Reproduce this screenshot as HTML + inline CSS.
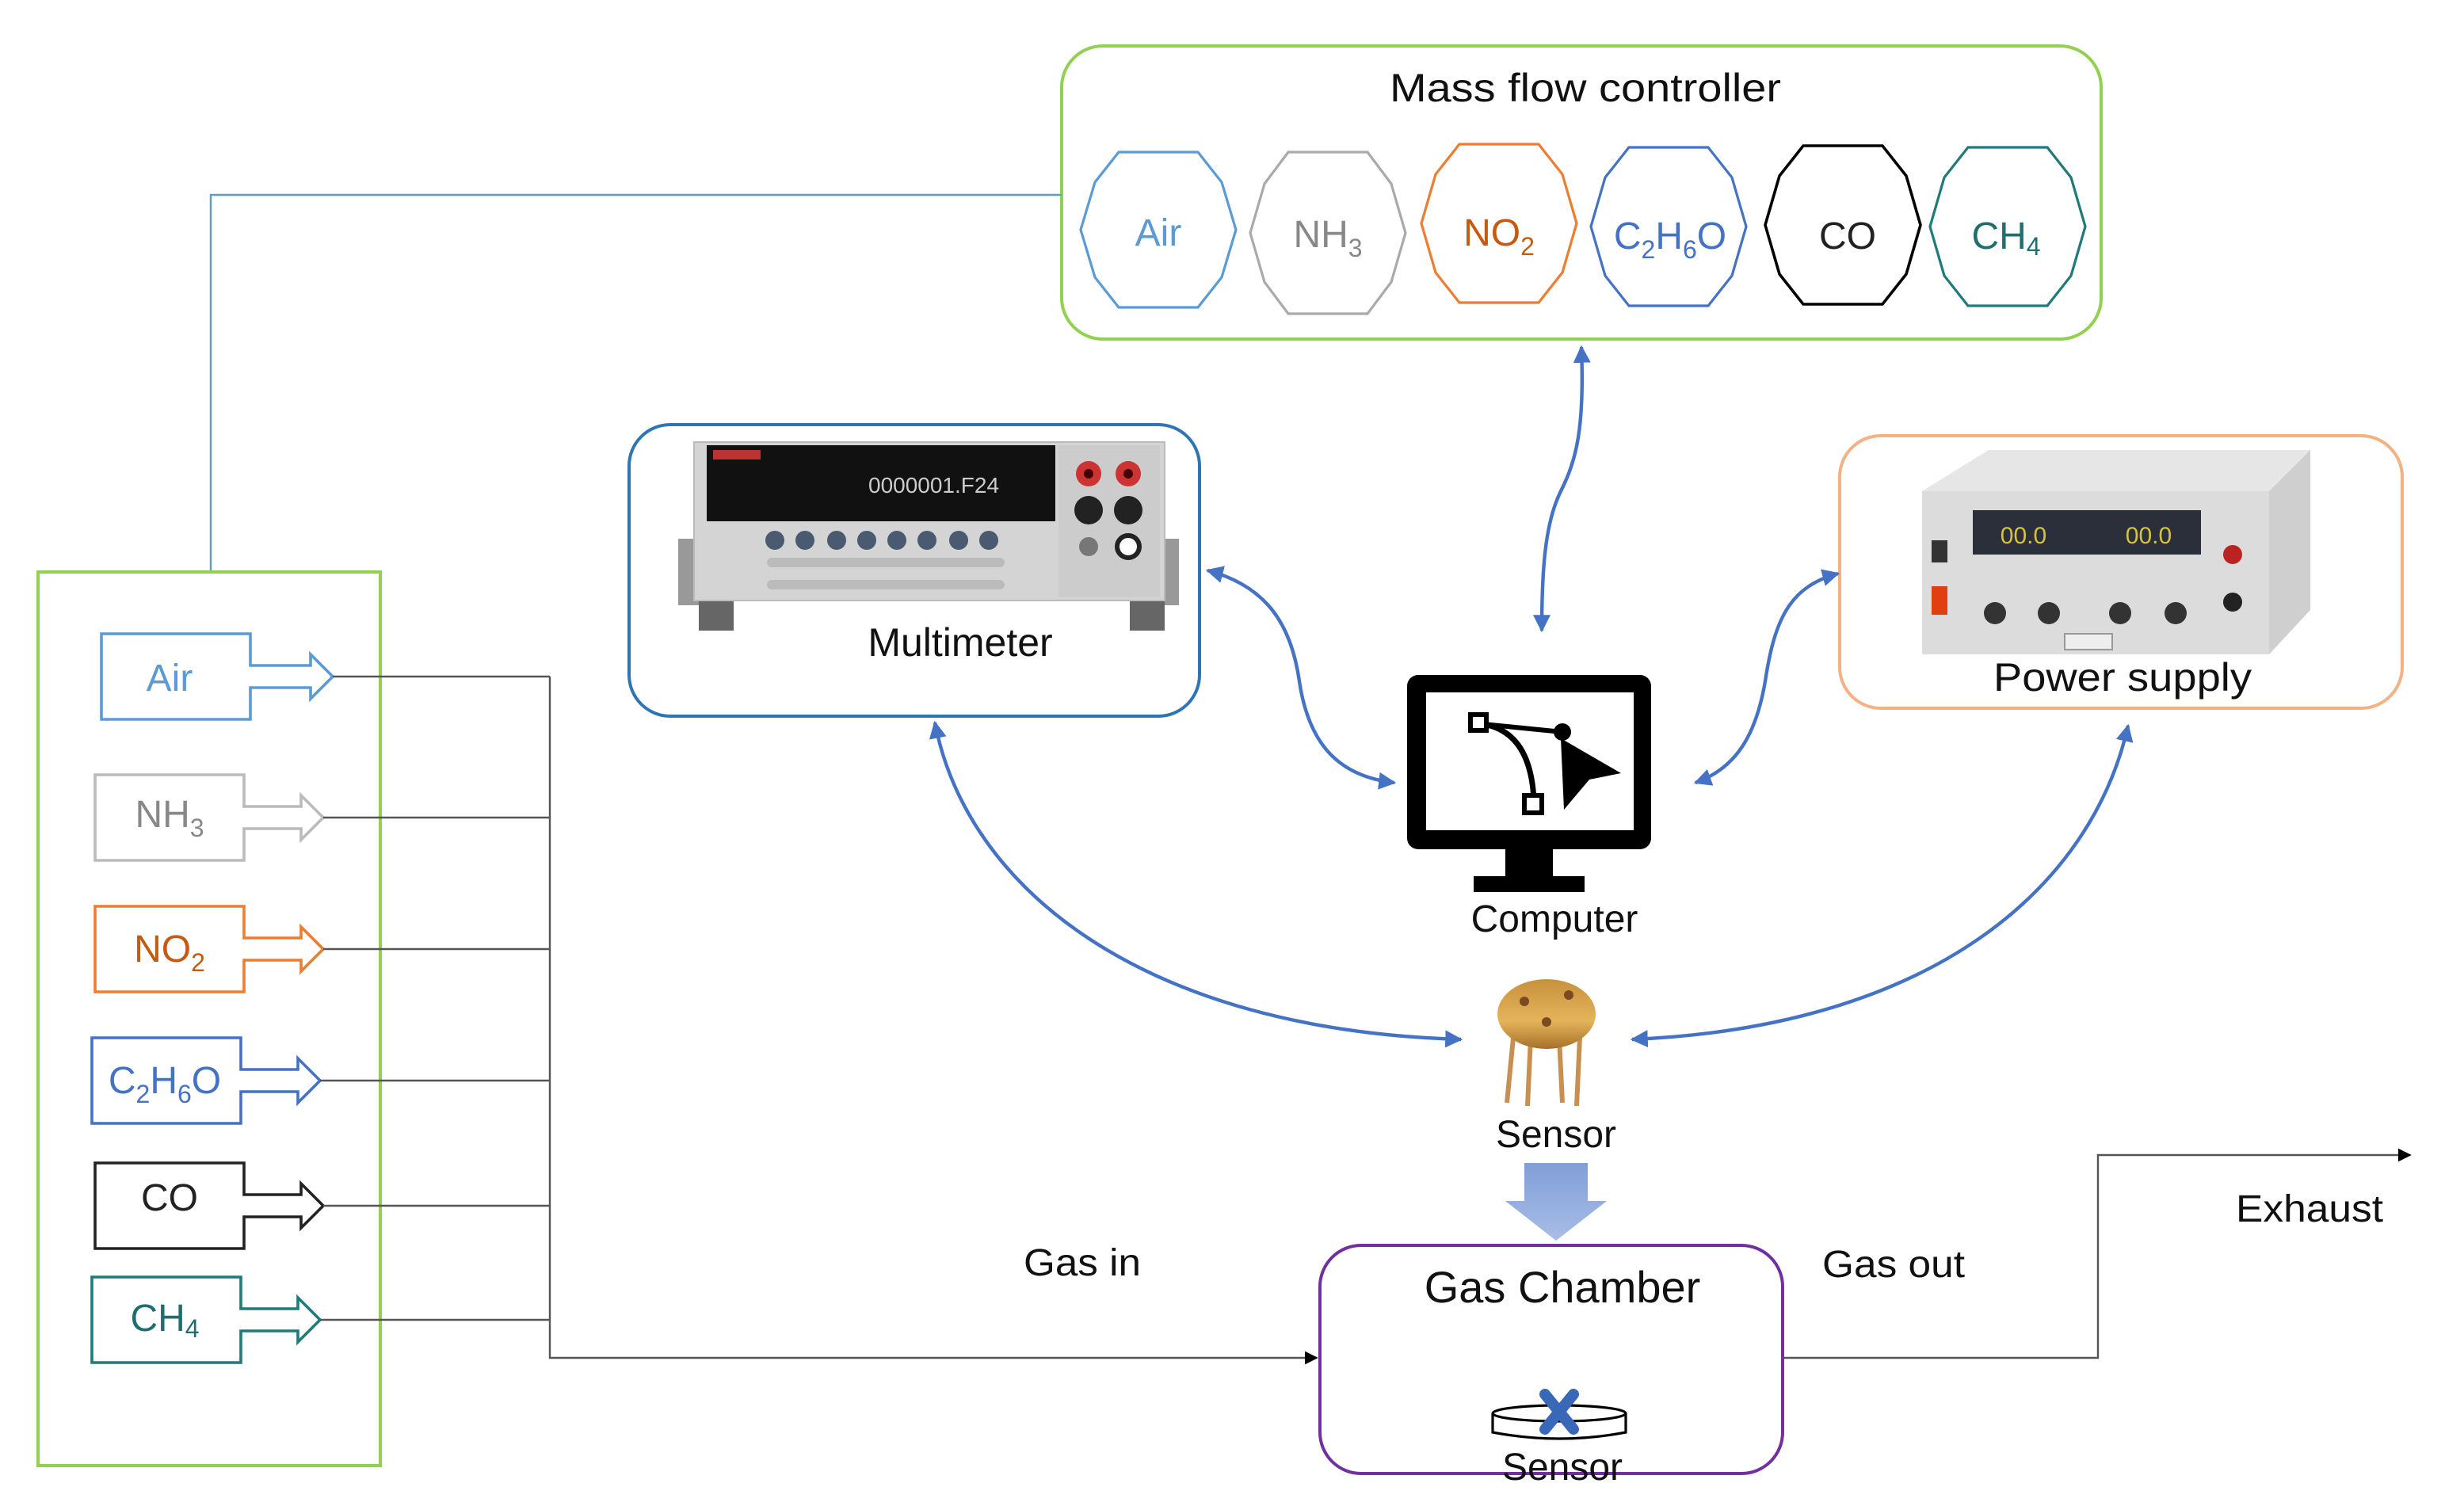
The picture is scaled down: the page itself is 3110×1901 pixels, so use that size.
<!DOCTYPE html>
<html><head><meta charset="utf-8"><style>
html,body{margin:0;padding:0;background:#fff;}
svg{display:block;}
text{font-family:"Liberation Sans",sans-serif;}
.n{font-family:"Liberation Sans Narrow","Liberation Sans",sans-serif;}
</style></head><body>
<svg width="3110" height="1901" viewBox="0 0 1555 950.5" xmlns="http://www.w3.org/2000/svg">
<defs>
<marker id="ab" viewBox="0 0 10 10" refX="9" refY="5" markerWidth="5" markerHeight="5" orient="auto-start-reverse"><path d="M0,0 L10,5 L0,10 z" fill="#4472c4"/></marker>
<marker id="ak" viewBox="0 0 10 10" refX="9" refY="5" markerWidth="7" markerHeight="7" orient="auto"><path d="M0,0 L10,5 L0,10 z" fill="#000"/></marker>
<linearGradient id="dg" x1="0" y1="0" x2="0" y2="1"><stop offset="0" stop-color="#7f9fd8"/><stop offset="1" stop-color="#a9bde6"/></linearGradient>
<linearGradient id="gold" x1="0" y1="0" x2="0" y2="1"><stop offset="0" stop-color="#c8903c"/><stop offset=".6" stop-color="#e4b45a"/><stop offset="1" stop-color="#a8702a"/></linearGradient>
</defs>

<!-- Mass flow controller -->
<rect x="670" y="29" width="656" height="185" rx="26" fill="none" stroke="#92d050" stroke-width="2"/>
<text x="877" y="64" font-size="25" textLength="247" lengthAdjust="spacingAndGlyphs" fill="#111">Mass flow controller</text>
<polygon points="780,145 771,175 756,194 706,194 691,175 682,145 691,115 706,96 756,96 771,115" fill="none" stroke="#5b9bd5" stroke-width="1.6"/>
<polygon points="887,147 878,178 863,198 813,198 798,178 789,147 798,116 813,96 863,96 878,116" fill="none" stroke="#aaa" stroke-width="1.6"/>
<polygon points="995,141 986,172 971,191 921,191 906,172 897,141 906,110 921,91 971,91 986,110" fill="none" stroke="#ed7d31" stroke-width="1.6"/>
<polygon points="1102,143 1093,174 1078,193 1028,193 1013,174 1004,143 1013,112 1028,93 1078,93 1093,112" fill="none" stroke="#4472c4" stroke-width="1.6"/>
<polygon points="1212,142 1203,173 1188,192 1138,192 1123,173 1114,142 1123,111 1138,92 1188,92 1203,111" fill="none" stroke="#000" stroke-width="1.8"/>
<polygon points="1316,143 1307,174 1292,193 1242,193 1227,174 1218,143 1227,112 1242,93 1292,93 1307,112" fill="none" stroke="#1f7a7a" stroke-width="1.6"/>
<g font-size="24" text-anchor="middle">
<text x="731" y="155" fill="#5b9bd5">Air</text>
<text x="838" y="156" fill="#888">NH<tspan font-size="16" dy="6">3</tspan></text>
<text x="946" y="155" fill="#c55a11">NO<tspan font-size="16" dy="6">2</tspan></text>
<text x="1054" y="157" fill="#4472c4">C<tspan font-size="16" dy="6">2</tspan><tspan dy="-6">H</tspan><tspan font-size="16" dy="6">6</tspan><tspan dy="-6">O</tspan></text>
<text x="1166" y="157" fill="#222">CO</text>
<text x="1266" y="157" fill="#1f6f70">CH<tspan font-size="16" dy="4">4</tspan></text>
</g>

<polyline points="670,123 133,123 133,361" fill="none" stroke="#5b9bd5" stroke-width="1.2"/>

<!-- left box -->
<rect x="24" y="361" width="216" height="564" fill="none" stroke="#92d050" stroke-width="2"/>
<g fill="#fff" stroke-width="1.8">
<polygon points="64,400 158,400 158,420 196,420 196,413 210,427 196,441 196,434 158,434 158,454 64,454" stroke="#5b9bd5"/>
<polygon points="60,489 154,489 154,509 190,509 190,502 204,516 190,530 190,523 154,523 154,543 60,543" stroke="#bbb"/>
<polygon points="60,572 154,572 154,592 190,592 190,585 204,599 190,613 190,606 154,606 154,626 60,626" stroke="#ed7d31"/>
<polygon points="58,655 152,655 152,675 188,675 188,668 202,682 188,696 188,689 152,689 152,709 58,709" stroke="#4472c4"/>
<polygon points="60,734 154,734 154,754 190,754 190,747 204,761 190,775 190,768 154,768 154,788 60,788" stroke="#222"/>
<polygon points="58,806 152,806 152,826 188,826 188,819 202,833 188,847 188,840 152,840 152,860 58,860" stroke="#1f7a7a"/>
</g>
<g font-size="24" text-anchor="middle">
<text x="107" y="436" fill="#5b9bd5">Air</text>
<text x="107" y="522" fill="#888">NH<tspan font-size="16" dy="6">3</tspan></text>
<text x="107" y="607" fill="#c55a11">NO<tspan font-size="16" dy="6">2</tspan></text>
<text x="104" y="690" fill="#4472c4">C<tspan font-size="16" dy="6">2</tspan><tspan dy="-6">H</tspan><tspan font-size="16" dy="6">6</tspan><tspan dy="-6">O</tspan></text>
<text x="107" y="764" fill="#222">CO</text>
<text x="104" y="840" fill="#1f6f70">CH<tspan font-size="16" dy="4">4</tspan></text>
</g>
<g stroke="#555" stroke-width="1.2" fill="none">
<line x1="210" y1="427" x2="347" y2="427"/>
<line x1="204" y1="516" x2="347" y2="516"/>
<line x1="204" y1="599" x2="347" y2="599"/>
<line x1="202" y1="682" x2="347" y2="682"/>
<line x1="204" y1="761" x2="347" y2="761"/>
<line x1="202" y1="833" x2="347" y2="833"/>
<polyline points="347,427 347,857 831,857" marker-end="url(#ak)"/>
<polyline points="1125,857 1324,857 1324,729 1521,729" marker-end="url(#ak)"/>
</g>
<text x="646" y="805" font-size="24" textLength="74" lengthAdjust="spacingAndGlyphs" fill="#111">Gas in</text>
<text x="1150" y="806" font-size="24" textLength="90" lengthAdjust="spacingAndGlyphs" fill="#111">Gas out</text>
<text x="1411" y="771" font-size="24" textLength="93" lengthAdjust="spacingAndGlyphs" fill="#111">Exhaust</text>

<!-- Multimeter -->
<rect x="397" y="268" width="360" height="184" rx="26" fill="none" stroke="#2e75b6" stroke-width="2"/>
<rect x="428" y="340" width="18" height="42" fill="#999"/>
<rect x="726" y="340" width="18" height="42" fill="#999"/>
<rect x="441" y="370" width="22" height="28" fill="#666"/>
<rect x="713" y="370" width="22" height="28" fill="#666"/>
<rect x="438" y="279" width="297" height="100" fill="#d4d4d4" stroke="#bbb"/>
<rect x="446" y="281" width="220" height="48" fill="#111"/>
<rect x="450" y="284" width="30" height="6" fill="#b33"/>
<text x="548" y="311" font-size="14" fill="#ccc" font-family="Liberation Mono">0000001.F24</text>
<rect x="668" y="281" width="64" height="96" fill="#ccc"/>
<circle cx="687" cy="299" r="8" fill="#c33"/><circle cx="712" cy="299" r="8" fill="#c33"/>
<circle cx="687" cy="299" r="3" fill="#400"/><circle cx="712" cy="299" r="3" fill="#400"/>
<circle cx="687" cy="322" r="9" fill="#222"/><circle cx="712" cy="322" r="9" fill="#222"/>
<circle cx="687" cy="345" r="6" fill="#777"/><circle cx="712" cy="345" r="7" fill="#fff" stroke="#222" stroke-width="3"/>
<g fill="#4a5a70">
<circle cx="489" cy="341" r="6"/><circle cx="508" cy="341" r="6"/><circle cx="528" cy="341" r="6"/><circle cx="547" cy="341" r="6"/>
<circle cx="566" cy="341" r="6"/><circle cx="585" cy="341" r="6"/><circle cx="605" cy="341" r="6"/><circle cx="624" cy="341" r="6"/>
</g>
<rect x="484" y="352" width="150" height="6" rx="3" fill="#bbb"/>
<rect x="484" y="366" width="150" height="6" rx="3" fill="#bbb"/>
<text x="606" y="414" font-size="25" text-anchor="middle" fill="#111">Multimeter</text>

<!-- Power supply -->
<rect x="1161" y="275" width="355" height="172" rx="26" fill="none" stroke="#f4b183" stroke-width="2"/>
<polygon points="1213,310 1255,284 1458,284 1432,310" fill="#e6e6e6"/>
<polygon points="1432,310 1458,284 1458,385 1432,413" fill="#cfcfcf"/>
<rect x="1213" y="310" width="219" height="103" fill="#dcdcdc"/>
<rect x="1245" y="322" width="144" height="28" fill="#2a2f3a"/>
<text x="1277" y="343" font-size="15" text-anchor="middle" fill="#d8c040" font-family="Liberation Mono">00.0</text>
<text x="1356" y="343" font-size="15" text-anchor="middle" fill="#d8c040" font-family="Liberation Mono">00.0</text>
<rect x="1219" y="341" width="10" height="14" fill="#333"/>
<rect x="1219" y="370" width="10" height="18" fill="#e04010"/>
<circle cx="1259" cy="387" r="7" fill="#333"/><circle cx="1293" cy="387" r="7" fill="#333"/>
<circle cx="1338" cy="387" r="7" fill="#333"/><circle cx="1373" cy="387" r="7" fill="#333"/>
<circle cx="1409" cy="350" r="6" fill="#b22"/><circle cx="1409" cy="380" r="6" fill="#222"/>
<rect x="1303" y="400" width="30" height="10" fill="#eee" stroke="#999"/>
<text x="1258" y="436" font-size="25" textLength="163" lengthAdjust="spacingAndGlyphs" fill="#111">Power supply</text>

<!-- Computer -->
<rect x="888" y="426" width="154" height="110" rx="7" fill="#000"/>
<rect x="900" y="437" width="131" height="87" fill="#fff"/>
<rect x="950" y="535" width="30" height="19" fill="#000"/>
<rect x="930" y="553" width="70" height="10" fill="#000"/>
<path d="M936,457 Q966,462 968,505" fill="none" stroke="#000" stroke-width="3.5"/>
<line x1="936" y1="457" x2="986" y2="462" stroke="#000" stroke-width="3"/>
<rect x="928" y="451" width="10" height="10" fill="#fff" stroke="#000" stroke-width="3"/>
<rect x="962" y="502" width="11" height="11" fill="#fff" stroke="#000" stroke-width="3"/>
<circle cx="986" cy="462" r="5.5" fill="#000"/>
<polygon points="985,466 1023,488 1003,492 987,511" fill="#000"/>
<text x="981" y="588" font-size="24" text-anchor="middle" fill="#111">Computer</text>

<!-- Sensor device -->
<g stroke="#c89050" stroke-width="3">
<line x1="955" y1="655" x2="951" y2="696"/><line x1="966" y1="655" x2="964" y2="698"/>
<line x1="984" y1="655" x2="986" y2="696"/><line x1="997" y1="655" x2="995" y2="698"/>
</g>
<ellipse cx="976" cy="640" rx="31" ry="22" fill="url(#gold)"/>
<circle cx="962" cy="632" r="3" fill="#7a4a20"/><circle cx="990" cy="628" r="3" fill="#7a4a20"/><circle cx="976" cy="645" r="3" fill="#7a4a20"/>
<text x="982" y="724" font-size="24" text-anchor="middle" fill="#111">Sensor</text>

<polygon points="962,734 1002,734 1002,758 1014,758 982,783 950,758 962,758" fill="url(#dg)"/>

<!-- Gas Chamber -->
<rect x="833" y="786" width="292" height="144" rx="26" fill="none" stroke="#7030a0" stroke-width="2"/>
<text x="986" y="822" font-size="28" text-anchor="middle" fill="#111">Gas Chamber</text>
<path d="M942,892 L942,904 Q984,912 1026,904 L1026,892" fill="#fff" stroke="#000" stroke-width="1.6"/>
<ellipse cx="984" cy="892" rx="42" ry="5" fill="#fff" stroke="#000" stroke-width="1.6"/>
<g stroke="#3a68b8" stroke-width="7" stroke-linecap="round">
<line x1="975" y1="880" x2="993" y2="902"/><line x1="993" y1="880" x2="975" y2="902"/>
</g>
<text x="986" y="934" font-size="24" text-anchor="middle" fill="#111">Sensor</text>

<g fill="none" stroke="#4472c4" stroke-width="2.2" marker-start="url(#ab)" marker-end="url(#ab)">
<path d="M998,219 C1000,270 995,290 985,310 C975,330 973,360 973,398"/>
<path d="M762,360 C800,370 815,395 820,430 C826,470 845,490 880,494"/>
<path d="M1160,362 C1130,370 1120,390 1114,430 C1108,465 1095,485 1070,494"/>
<path d="M590,456 C610,560 720,650 922,656"/>
<path d="M1343,458 C1320,560 1220,648 1030,656"/>
</g>
</svg>
</body></html>
